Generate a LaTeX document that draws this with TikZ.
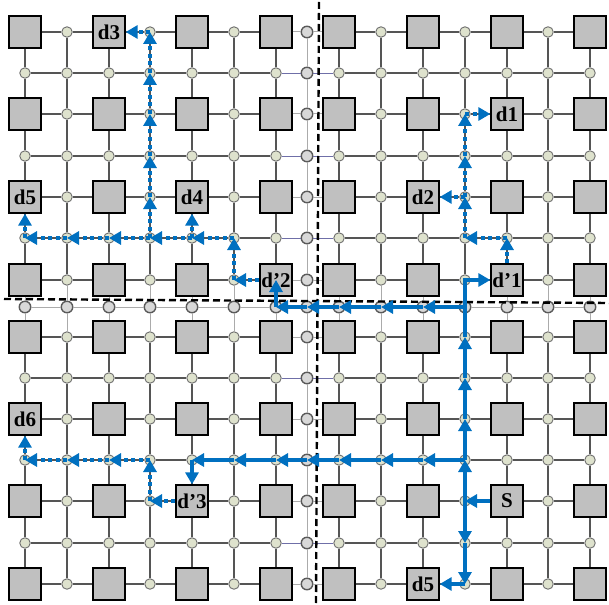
\documentclass[tikz,border=0pt]{standalone}
\usepackage{fontspec}
\setmainfont{Liberation Serif}
\usetikzlibrary{arrows.meta}
\definecolor{nocblue}{HTML}{0070C0}
\definecolor{rtrfill}{HTML}{DEE2CD}
\definecolor{rtrdraw}{HTML}{6E6E6E}
\definecolor{corefill}{HTML}{C0C0C0}
\definecolor{bndfill}{HTML}{D8D8D8}
\definecolor{bnddraw}{HTML}{5A5A5A}
\definecolor{linkdark}{HTML}{555555}
\definecolor{linklight}{HTML}{ABABAB}
\definecolor{linkpurple}{HTML}{6F6FA8}
\tikzset{
  core/.style={draw=black, line width=1.8pt, fill=corefill, minimum size=31.5pt, inner sep=0pt},
  rtr/.style={circle, draw=rtrdraw, line width=0.9pt, fill=rtrfill, minimum size=10.5pt, inner sep=0pt},
  bnd/.style={circle, draw=bnddraw, line width=1.4pt, fill=bndfill, minimum size=11.5pt, inner sep=0pt},
  lbl/.style={font=\fontsize{21}{21}\selectfont\bfseries, inner sep=0pt},
  sarrow/.style={draw=nocblue, line width=4.3pt, -{Triangle[length=12pt,width=13pt]}},
  darrow/.style={sarrow, line width=4pt, dash pattern=on 4pt off 3.5pt},
  border/.style={draw=black, line width=2.4pt, dash pattern=on 7pt off 4pt}
}
\def\xs{25,67,109,150,192,234,276,307,339,381,423,465,507,548,590}
\def\ys{32,73,114,156,197,238,280,307,337,378,419,460,501,543,584}
\begin{document}
\begin{tikzpicture}[x=1pt,y=-1pt]
\useasboundingbox (0,0) rectangle (609,604);
% nodes
\foreach \x [count=\i from 0] in \xs {
  \foreach \y [count=\j from 0] in \ys {
    \ifnum\i=7 \def\kind{bnd}\else\ifnum\j=7 \def\kind{bnd}\else
      \ifodd\i \def\kind{rtr}\else\ifodd\j \def\kind{rtr}\else\def\kind{core}\fi\fi\fi\fi
    \edef\tmp{\noexpand\node[\kind] (n-\i-\j) at (\x,\y) {};}\tmp
  }
}
% horizontal links
\foreach \i in {0,...,13} {
  \pgfmathtruncatemacro\ii{\i+1}
  \foreach \j in {0,...,14} {
    \def\lkc{linkdark}\def\lkw{1.3pt}
    \ifnum\j=7 \def\lkc{linklight}\def\lkw{1pt}\else
      \ifnum\i>5 \ifnum\i<8
        \ifodd\j \def\lkc{linkpurple}\def\lkw{0.7pt}\else\def\lkc{linklight}\def\lkw{1pt}\fi
      \fi\fi
    \fi
    \draw[draw=\lkc, line width=\lkw] (n-\i-\j) -- (n-\ii-\j);
  }
}
% vertical links
\foreach \j in {0,...,13} {
  \pgfmathtruncatemacro\jj{\j+1}
  \foreach \i in {0,...,14} {
    \def\lkc{linkdark}\def\lkw{1.3pt}
    \ifnum\i=7 \def\lkc{linklight}\def\lkw{1pt}\fi
    \ifnum\j=6 \def\lkc{linklight}\def\lkw{1pt}\fi
    \ifnum\j=7 \def\lkc{linklight}\def\lkw{1pt}\fi
    \draw[draw=\lkc, line width=\lkw] (n-\i-\j) -- (n-\i-\jj);
  }
}
% labels
\node[lbl] (t-d3) at (n-2-0) {d3};
\node[lbl] (t-d1) at (n-12-2) {d1};
\node[lbl] (t-d2) at (n-10-4) {d2};
\node[lbl] (t-d5a) at (n-0-4) {d5};
\node[lbl] (t-d4) at (n-4-4) {d4};
\node[lbl] (t-dp2) at (n-6-6) {d’2};
\node[lbl] (t-dp1) at (n-12-6) {d’1};
\node[lbl] (t-d6) at (n-0-10) {d6};
\node[lbl] (t-dp3) at (n-4-12) {d’3};
\node[lbl] (t-s) at (n-12-12) {S};
\node[lbl] (t-d5b) at (n-10-14) {d5};
% partition borders
\draw[border] (319,2) -- (316,604);
\draw[border] (4,299) -- (609,303);
% solid path
\draw[sarrow] (n-12-12) -- (n-11-12.center);
\draw[sarrow] (n-11-12.center) -- (n-11-11.center);
\draw[sarrow] (n-11-11.center) -- (n-11-10.center);
\draw[sarrow] (n-11-10.center) -- (n-11-9.center);
\draw[sarrow] (n-11-9.center) -- (n-11-8.center);
\draw[sarrow] (n-11-8.center) -- (n-11-6.center) -- (n-12-6);
\foreach \a/\b in {11/10,10/9,9/8,8/7,7/6} {
  \draw[sarrow] (n-\a-7.center) -- (n-\b-7.center);
}
\draw[sarrow] (n-6-7.center) -- (n-6-6.center);
\foreach \a/\b in {11/10,10/9,9/8,8/7,7/6,6/5,5/4} {
  \draw[sarrow] (n-\a-11.center) -- (n-\b-11.center);
}
\draw[sarrow] (n-4-11.center) -- (n-4-12);
\draw[sarrow] (n-11-12.center) -- (n-11-13.center);
\draw[sarrow] (n-11-13.center) -- (n-11-14.center);
\draw[sarrow] (n-11-14.center) -- (n-10-14);
% dotted paths from d'1
\draw[darrow] (n-12-6) -- (n-12-5.center);
\draw[darrow] (n-12-5.center) -- (n-11-5.center);
\draw[darrow] (n-11-5.center) -- (n-11-4.center);
\draw[darrow] (n-11-4.center) -- (n-10-4);
\draw[darrow] (n-11-4.center) -- (n-11-3.center);
\draw[darrow] (n-11-3.center) -- (n-11-2.center);
\draw[darrow] (n-11-2.center) -- (n-12-2);
% dotted paths from d'2
\draw[darrow] (n-6-6) -- (n-5-6.center);
\draw[darrow] (n-5-6.center) -- (n-5-5.center);
\foreach \a/\b in {5/4,4/3,3/2,2/1,1/0} {
  \draw[darrow] (n-\a-5.center) -- (n-\b-5.center);
}
\draw[darrow] (n-0-5.center) -- (n-0-4);
\draw[darrow] (n-4-5.center) -- (n-4-4);
\foreach \a/\b in {5/4,4/3,3/2,2/1,1/0} {
  \draw[darrow] (n-3-\a.center) -- (n-3-\b.center);
}
\draw[darrow] (n-3-0.center) -- (n-2-0);
% dotted paths from d'3
\draw[darrow] (n-4-12) -- (n-3-12.center);
\draw[darrow] (n-3-12.center) -- (n-3-11.center);
\foreach \a/\b in {3/2,2/1,1/0} {
  \draw[darrow] (n-\a-11.center) -- (n-\b-11.center);
}
\draw[darrow] (n-0-11.center) -- (n-0-10);
\end{tikzpicture}
\end{document}
